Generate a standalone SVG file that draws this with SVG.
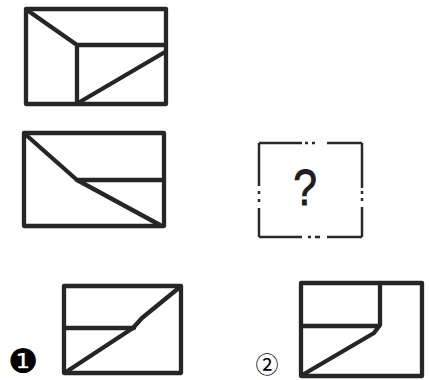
<svg xmlns="http://www.w3.org/2000/svg" width="429" height="380" viewBox="0 0 429 380">
<style>
.f{fill:none;stroke:#262626;stroke-width:4.3;stroke-linejoin:round;stroke-linecap:round}
.d{fill:none;stroke:#2a2a2a;stroke-width:2.5;stroke-linecap:butt}
.t{font-family:"Liberation Sans",sans-serif;fill:#1e1e1e;stroke:#1e1e1e;stroke-width:1}
</style>
<rect width="429" height="380" fill="#ffffff"/>
<g id="fig1">
<rect class="f" x="26" y="9" width="140" height="95"/>
<polyline class="f" points="27,10 77,45 165,45"/>
<line class="f" x1="77" y1="45" x2="77" y2="103"/>
<line class="f" x1="78" y1="103" x2="165" y2="52"/>
</g>
<g id="fig2">
<rect class="f" x="24" y="133" width="140" height="93"/>
<polyline class="f" points="25,134 77,180 160,225"/>
<line class="f" x1="77" y1="180" x2="164" y2="180"/>
</g>
<g id="question">
<path class="d" d="M259,143 H302 M305,143 H308 M312,143 H315 M327,143 H362 M259,143 V186 M259,191 V194 M259,199 V202 M259,208 V237 M362,143 V188 M362,191 V194 M362,198 V201 M362,207 V237 M259,237 H302 M308,237 H311 M315,237 H320 M327,237 H362"/>
<text class="t" x="305" y="205" font-size="50" text-anchor="middle" transform="translate(305 0) scale(0.85 1) translate(-305 0)">?</text>
</g>
<g id="opt1">
<rect class="f" x="64" y="286" width="117" height="87"/>
<line class="f" x1="64" y1="328" x2="134" y2="328"/>
<polyline class="f" points="66,372 133,328 142,318 180,287"/>
<text x="23" y="373" font-size="34" text-anchor="middle" font-family="'DejaVu Sans','Noto Sans CJK SC',sans-serif" fill="#000">❶</text>
</g>
<g id="opt2">
<rect class="f" x="301" y="283" width="121" height="93"/>
<polyline class="f" points="380,284 380,325 374,333 304,374"/>
<line class="f" x1="302" y1="326" x2="379" y2="326"/>
<text x="267" y="373" font-size="23" text-anchor="middle" font-family="'Noto Sans CJK SC','DejaVu Sans',sans-serif" fill="#000">②</text>
</g>
</svg>
